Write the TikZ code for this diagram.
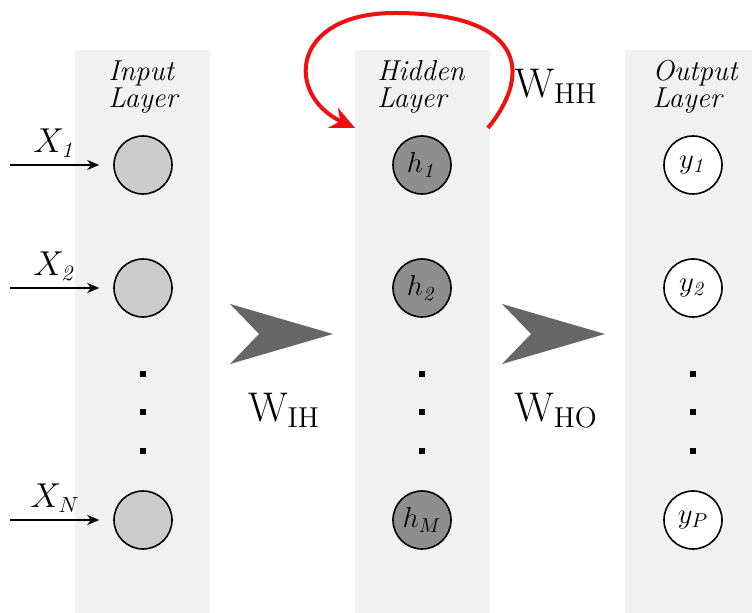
\documentclass[tikz,border=0pt]{standalone}
\usepackage{amsmath}
\usetikzlibrary{arrows.meta,positioning}
\definecolor{ColumnGray}{HTML}{F1F1F1}
\definecolor{InputGray}{HTML}{CCCCCC}
\definecolor{HiddenGray}{HTML}{8E8E8E}
\definecolor{ChevronGray}{HTML}{666666}
\definecolor{LoopRed}{HTML}{F01010}
\tikzset{
  layercol/.style={rectangle, fill=ColumnGray, minimum width=67.5pt, minimum height=290pt, anchor=north, inner sep=0pt},
  layertitle/.style={font=\fontsize{14.4}{13.8}\selectfont\itshape, align=left, inner sep=0pt},
  unit/.style={circle, draw=black, line width=0.8pt, minimum size=29pt, inner sep=0pt, font=\Large},
  inunit/.style={unit, fill=InputGray},
  hidunit/.style={unit, fill=HiddenGray},
  outunit/.style={unit, fill=white},
  inarrow/.style={-{Stealth[length=6pt,width=5pt]}, line width=0.8pt, shorten >=7pt},
  weightlabel/.style={font=\fontsize{22}{26}\selectfont, inner sep=0pt},
  vdot/.style={rectangle, fill=black, minimum size=3pt, inner sep=0pt},
  chevron/.style={fill=ChevronGray, draw=none},
  looparrow/.style={-{Stealth[length=12pt,width=11pt]}, line width=2pt, LoopRed}
}
\begin{document}
\begin{tikzpicture}[x=0.5pt, y=-0.5pt]
  \clip (0,0) rectangle (752,613);

  % Layer columns
  \node[layercol] (incol) at (142.5,50) {};
  \node[layercol] (hidcol) at (422.5,50) {};
  \node[layercol] (outcol) at (692.5,50) {};

  \node[layertitle] (intitle) at (143,87) {Input\\Layer};
  \node[layertitle] (hidtitle) at (421,87) {Hidden\\Layer};
  \node[layertitle] (outtitle) at (695,87) {Output\\Layer};

  % Units
  \foreach \n/\y/\sub in {1/165/\mathit{1}, 2/288/\mathit{2}, 3/520/N} {
    \node[inunit] (in\n) at (143,\y) {};
    \coordinate (x\n) at (10,\y);
    \draw[inarrow] (x\n) -- (in\n);
    \node[font=\fontsize{16}{18}\selectfont] (xlab\n) at (55,\y-22) {$X_{\sub}$};
  }
  \foreach \n/\y/\sub in {1/165/\mathit{1}, 2/288/\mathit{2}, 3/520/M}
    \node[hidunit] (h\n) at (422,\y) {$h_{\sub}$};
  \foreach \n/\y/\sub in {1/165/\mathit{1}, 2/288/\mathit{2}, 3/520/P}
    \node[outunit] (o\n) at (693,\y) {$y_{\sub}$};

  % Vertical dots
  \foreach \x in {143,422,693}
    \foreach \y in {374,412,451}
      \node[vdot] at (\x,\y) {};

  % Weight arrows between layers
  \foreach \x in {230,502}
    \fill[chevron] (\x,304) -- (\x+103,334) -- (\x,364) -- (\x+29,334) -- cycle;
  \node[weightlabel] (wih) at (284,410) {$\mathrm{W}_{\mathrm{IH}}$};
  \node[weightlabel] (who) at (556,410) {$\mathrm{W}_{\mathrm{HO}}$};
  \node[weightlabel] (whh) at (556,86) {$\mathrm{W}_{\mathrm{HH}}$};

  % Recurrent loop on the hidden layer
  \coordinate (loopout) at (488,128);
  \coordinate (loopin) at (355,128);
  \draw[looparrow] (loopout) .. controls (535,70) and (520,13) .. (395,13)
    .. controls (290,13) and (285,95) .. (loopin);
\end{tikzpicture}
\end{document}
